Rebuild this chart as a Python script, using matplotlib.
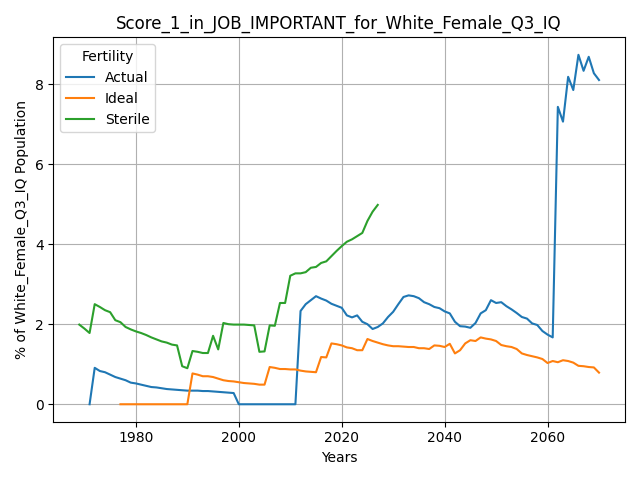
import matplotlib
matplotlib.use("Agg")
import matplotlib.pyplot as plt

TITLE = "Score_1_in_JOB_IMPORTANT_for_White_Female_Q3_IQ"

actual_years = list(range(1971, 2071))
actual_vals = [
    0.0, 0.91, 0.83, 0.80, 0.74, 0.68, 0.64, 0.60, 0.54, 0.52,
    0.49, 0.46, 0.43, 0.42, 0.40, 0.38, 0.37, 0.36, 0.35, 0.34,
    0.34, 0.34, 0.33, 0.33, 0.32, 0.31, 0.30, 0.29, 0.28, 0.0,
    0.0, 0.0, 0.0, 0.0, 0.0, 0.0, 0.0, 0.0, 0.0, 0.0,
    0.0, 2.33, 2.50, 2.60, 2.70, 2.64, 2.59, 2.51, 2.46, 2.41,
    2.22, 2.17, 2.22, 2.06, 2.00, 1.88, 1.93, 2.02, 2.18, 2.31,
    2.50, 2.68, 2.72, 2.70, 2.65, 2.55, 2.50, 2.43, 2.40, 2.32,
    2.27, 2.06, 1.95, 1.94, 1.91, 2.03, 2.27, 2.35, 2.60, 2.53,
    2.55, 2.45, 2.37, 2.28, 2.18, 2.14, 2.02, 1.98, 1.83, 1.74,
    1.67, 7.43, 7.06, 8.18, 7.85, 8.73, 8.33, 8.68, 8.27, 8.10,
]

ideal_years = list(range(1977, 2071))
ideal_vals = [
    0.0, 0.0, 0.0, 0.0, 0.0, 0.0, 0.0, 0.0, 0.0, 0.0,
    0.0, 0.0, 0.0, 0.0, 0.77, 0.74, 0.70, 0.70, 0.68, 0.64,
    0.60, 0.58, 0.57, 0.55, 0.53, 0.52, 0.51, 0.49, 0.49, 0.93,
    0.91, 0.88, 0.88, 0.87, 0.87, 0.84, 0.82, 0.81, 0.80, 1.18,
    1.17, 1.52, 1.50, 1.47, 1.42, 1.40, 1.35, 1.35, 1.63, 1.58,
    1.54, 1.50, 1.47, 1.45, 1.45, 1.44, 1.43, 1.43, 1.40, 1.40,
    1.38, 1.47, 1.46, 1.43, 1.51, 1.27, 1.35, 1.52, 1.60, 1.58,
    1.67, 1.64, 1.62, 1.58, 1.48, 1.45, 1.43, 1.38, 1.27, 1.23,
    1.20, 1.17, 1.13, 1.03, 1.08, 1.05, 1.10, 1.08, 1.04, 0.96,
    0.95, 0.93, 0.92, 0.79,
]

sterile_years = list(range(1969, 2028))
sterile_vals = [
    1.99, 1.89, 1.78, 2.50, 2.43, 2.35, 2.30, 2.10, 2.05, 1.93,
    1.87, 1.82, 1.78, 1.73, 1.67, 1.62, 1.57, 1.54, 1.49, 1.47,
    0.95, 0.90, 1.33, 1.31, 1.28, 1.28, 1.71, 1.37, 2.03, 2.00,
    1.99, 1.99, 1.99, 1.98, 1.97, 1.31, 1.32, 1.97, 1.96, 2.53,
    2.53, 3.21, 3.27, 3.27, 3.30, 3.41, 3.43, 3.53, 3.57, 3.70,
    3.83, 3.95, 4.06, 4.12, 4.20, 4.28, 4.58, 4.81, 4.98,
]


def main() -> None:
    fig, ax = plt.subplots(figsize=(6.4, 4.8), dpi=100)
    ax.plot(actual_years, actual_vals, label="Actual")
    ax.plot(ideal_years, ideal_vals, label="Ideal")
    ax.plot(sterile_years, sterile_vals, label="Sterile")
    ax.set_title(TITLE)
    ax.set_xlabel("Years")
    ax.set_ylabel("% of White_Female_Q3_IQ Population")
    ax.grid(True)
    ax.legend(title="Fertility", loc="upper left")
    fig.tight_layout()
    fig.savefig("out.png", dpi=100)
    plt.close(fig)


if __name__ == "__main__":
    main()
